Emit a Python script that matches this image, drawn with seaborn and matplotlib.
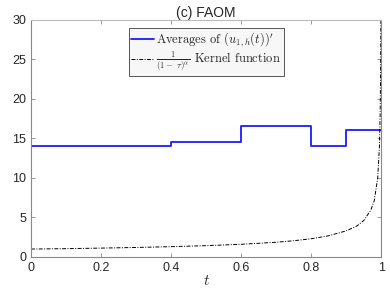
import numpy as np
import pandas as pd
import matplotlib
matplotlib.use("Agg")
import matplotlib.pyplot as plt
import seaborn as sns

# step values of the averages (piecewise constant on [t_i, t_i+1))
step_t = [0.0, 0.4, 0.6, 0.8, 0.9, 1.0]
step_avg = [14.0, 14.5, 16.5, 14.0, 16.0, 16.0]

# kernel curve
kern_t = [0.0, 0.1, 0.2, 0.3, 0.4, 0.5, 0.6, 0.7, 0.75, 0.8, 0.85, 0.9,
          0.93, 0.95, 0.97, 0.98, 0.99, 0.995, 0.997, 0.998, 0.999, 0.9995]
kern_val = [1.0, 1.05, 1.12, 1.2, 1.3, 1.43, 1.6, 1.86, 2.05, 2.3, 2.68, 3.3,
            3.9, 4.6, 5.9, 7.1, 10.0, 14.1, 18.3, 22.4, 30.0, 44.7]

x_ticks = [0, 0.2, 0.4, 0.6, 0.8, 1.0]
x_labels = ["0", "0.2", "0.4", "0.6", "0.8", "1"]
y_ticks = [0, 5, 10, 15, 20, 25, 30]

sns.set_style("ticks")
plt.rcParams['font.family'] = ['Liberation Sans', 'DejaVu Sans']
plt.rcParams['mathtext.fontset'] = 'cm'

step_df = pd.DataFrame({'t': step_t, 'v': step_avg})
kern_df = pd.DataFrame({'t': kern_t, 'v': kern_val})

fig = plt.figure(figsize=(3.9, 2.93), dpi=100)
ax = fig.add_axes([0.0795, 0.123, 0.898, 0.81])

sns.lineplot(data=step_df, x='t', y='v', ax=ax, color='#1a1aff', lw=1.3,
             drawstyle='steps-post', label=r"Averages of $(u_{1,h}(t))'$")
sns.lineplot(data=kern_df, x='t', y='v', ax=ax, color='black', lw=0.7,
             linestyle=(0, (4, 1.5, 1, 1.5)),
             label=r"$\frac{1}{(1-\ \tau)^{\alpha}}$ Kernel function")

ax.set_xlim(0, 1)
ax.set_ylim(0, 30)
ax.set_xticks(x_ticks)
ax.set_xticklabels(x_labels)
ax.set_yticks(y_ticks)
ax.tick_params(direction='in', top=True, right=True, labelsize=9,
               length=3, width=0.6, colors='#888888', labelcolor='#262626')
for s in ax.spines.values():
    s.set_color('#888888')
    s.set_linewidth(0.8)
ax.spines['top'].set_color('#bbbbbb')

ax.set_xlabel(r"$t$", fontsize=11, labelpad=0)
ax.set_ylabel("")
ax.set_title("(c) FAOM", fontsize=10, pad=2, color='#262626')

leg = ax.legend(loc='upper center', bbox_to_anchor=(0.5, 0.975),
                prop={'family': 'cmr10', 'size': 9},
                handlelength=1.8, handletextpad=0.2, borderpad=0.2,
                labelspacing=0.1, fancybox=False, framealpha=1,
                borderaxespad=0.2)
leg.get_frame().set_edgecolor('#555555')
leg.get_frame().set_facecolor('#f7f7f7')
leg.get_frame().set_linewidth(0.7)

fig.savefig("out.png", dpi=100)
